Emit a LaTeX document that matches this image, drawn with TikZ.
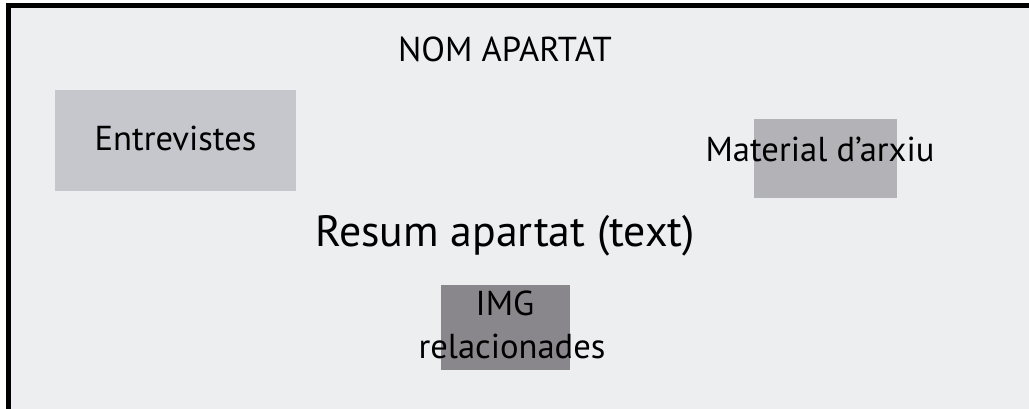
\documentclass[tikz,border=0pt]{standalone}
\usepackage{fontspec}
\setmainfont{PT Sans}
\usetikzlibrary{positioning}

\definecolor{fonsclar}{HTML}{EDEEF0}
\definecolor{caixaA}{HTML}{C6C7CC}
\definecolor{caixaB}{HTML}{B3B2B7}
\definecolor{caixaC}{HTML}{8A878C}

\tikzset{
  caixa/.style={inner sep=0pt,outer sep=0pt,anchor=north west},
  etiqueta/.style={inner sep=0pt,anchor=base,font=\fontsize{34.6}{43}\selectfont,align=center},
}

\begin{document}
\begin{tikzpicture}[x=1pt,y=-1pt]
  \useasboundingbox (0,0) rectangle (1029,409);
  \clip (0,0) rectangle (1029,409);
  % ---- marc de la pantalla (continua fora per la dreta i per baix) ----
  \fill[white] (0,0) rectangle (1029,409);
  \draw[line width=5pt,fill=fonsclar] (8.5,5.5) rectangle (1060,440);
  % ---- caixes ----
  \node[caixa,fill=caixaA,minimum width=241pt,minimum height=101pt] (entrevistes) at (55,90) {};
  \node[caixa,fill=caixaB,minimum width=143pt,minimum height=79pt] (arxiu) at (754,119) {};
  \node[caixa,fill=caixaC,minimum width=129pt,minimum height=85pt] (img) at (441,285) {};
  % ---- textos ----
  \node[etiqueta] (titol) at (505,62) {NOM APARTAT};
  \node[etiqueta] (txtentrevistes) at (175.5,151) {Entrevistes};
  \node[etiqueta] (txtarxiu) at (820,162) {Material d’arxiu};
  \node[etiqueta,font=\fontsize{43.8}{52}\selectfont] (resum) at (505,247) {Resum apartat (text)};
  \node[etiqueta] (txtimg) at (505,315) {IMG};
  \node[etiqueta] (txtrel) at (512,358) {relacionades};
\end{tikzpicture}
\end{document}
